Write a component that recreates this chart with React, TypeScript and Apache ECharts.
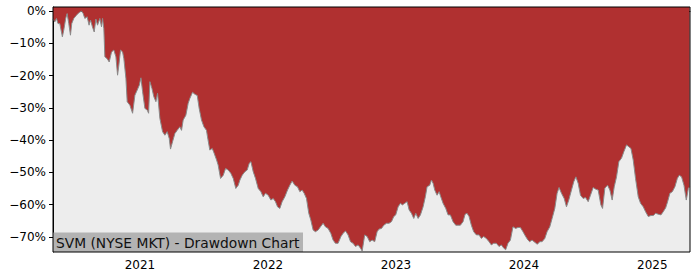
import React, { useEffect, useRef } from "react";
import * as echarts from "echarts";

// Dates as decimal years
const years: number[] = [
  2020.323, 2020.337, 2020.35, 2020.362, 2020.376, 2020.396, 2020.407, 2020.422, 2020.433, 2020.446,
  2020.459, 2020.469, 2020.485, 2020.506, 2020.526, 2020.545, 2020.558, 2020.571, 2020.589, 2020.604,
  2020.615, 2020.63, 2020.644, 2020.657, 2020.67, 2020.688, 2020.701, 2020.709, 2020.719, 2020.727,
  2020.745, 2020.761, 2020.779, 2020.797, 2020.813, 2020.826, 2020.836, 2020.849, 2020.865, 2020.875,
  2020.891, 2020.901, 2020.922, 2020.943, 2020.961, 2020.979, 2020.995, 2021.008, 2021.021, 2021.039,
  2021.057, 2021.068, 2021.078, 2021.094, 2021.109, 2021.125, 2021.138, 2021.156, 2021.177, 2021.195,
  2021.213, 2021.229, 2021.239, 2021.255, 2021.273, 2021.291, 2021.312, 2021.325, 2021.338, 2021.359,
  2021.377, 2021.39, 2021.411, 2021.429, 2021.448, 2021.463, 2021.481, 2021.5, 2021.52, 2021.528,
  2021.546, 2021.565, 2021.58, 2021.599, 2021.611, 2021.63, 2021.651, 2021.669, 2021.69, 2021.71,
  2021.729, 2021.749, 2021.768, 2021.781, 2021.799, 2021.82, 2021.838, 2021.854, 2021.867, 2021.885,
  2021.903, 2021.924, 2021.945, 2021.963, 2021.981, 2022.002, 2022.023, 2022.041, 2022.059, 2022.075,
  2022.093, 2022.111, 2022.132, 2022.153, 2022.171, 2022.189, 2022.21, 2022.231, 2022.249, 2022.267,
  2022.283, 2022.301, 2022.319, 2022.335, 2022.353, 2022.371, 2022.392, 2022.41, 2022.431, 2022.449,
  2022.47, 2022.491, 2022.509, 2022.527, 2022.548, 2022.569, 2022.587, 2022.606, 2022.626, 2022.645,
  2022.665, 2022.684, 2022.704, 2022.723, 2022.736, 2022.756, 2022.775, 2022.795, 2022.814, 2022.834,
  2022.853, 2022.868, 2022.887, 2022.905, 2022.926, 2022.946, 2022.965, 2022.983, 2022.998, 2023.017,
  2023.035, 2023.05, 2023.069, 2023.087, 2023.103, 2023.121, 2023.139, 2023.155, 2023.173, 2023.191,
  2023.212, 2023.23, 2023.243, 2023.264, 2023.277, 2023.29, 2023.303, 2023.321, 2023.337, 2023.35,
  2023.368, 2023.389, 2023.407, 2023.425, 2023.446, 2023.467, 2023.485, 2023.503, 2023.524, 2023.54,
  2023.555, 2023.571, 2023.589, 2023.607, 2023.628, 2023.649, 2023.667, 2023.685, 2023.706, 2023.727,
  2023.745, 2023.763, 2023.784, 2023.805, 2023.823, 2023.842, 2023.857, 2023.875, 2023.894, 2023.914,
  2023.935, 2023.953, 2023.972, 2023.992, 2024.013, 2024.031, 2024.044, 2024.063, 2024.084, 2024.104,
  2024.123, 2024.141, 2024.162, 2024.18, 2024.201, 2024.219, 2024.24, 2024.258, 2024.273, 2024.292,
  2024.313, 2024.331, 2024.349, 2024.37, 2024.388, 2024.404, 2024.422, 2024.44, 2024.461, 2024.479,
  2024.5, 2024.518, 2024.539, 2024.557, 2024.578, 2024.599, 2024.612, 2024.63, 2024.651, 2024.669,
  2024.687, 2024.703, 2024.721, 2024.739, 2024.76, 2024.778, 2024.799, 2024.817, 2024.833, 2024.851,
  2024.869, 2024.89, 2024.908, 2024.929, 2024.947, 2024.968, 2024.989, 2025.007, 2025.026, 2025.046,
  2025.067, 2025.085, 2025.104, 2025.119, 2025.137, 2025.156, 2025.176, 2025.195, 2025.21, 2025.228,
  2025.247, 2025.265, 2025.281, 2025.291,
];

// Drawdown in percent
const drawdown: number[] = [
  -2.5, -3.4, -2.3, -3.9, -3.9, -8.0, -5.9, -2.3, -0.8, -3.9,
  -7.5, -3.9, -2.3, -1.3, -0.5, 0, -0.8, -2.3, -1.8, -4.4,
  -2.8, -4.9, -6.5, -2.5, -4.4, -2.3, -4.9, -2.3, -5.5, -14.2,
  -14.8, -15.8, -12.7, -12.1, -14.2, -19.9, -16.8, -12.1, -12.7, -14.8,
  -20.9, -28.1, -29.2, -31.7, -26.1, -24.5, -23.0, -20.7, -25.0, -30.2,
  -30.7, -31.7, -21.9, -24.0, -26.6, -28.1, -25.5, -33.3, -37.4, -38.5,
  -37.4, -39.5, -42.8, -40.5, -38.0, -37.0, -35.9, -37.0, -33.8, -32.3,
  -28.6, -27.1, -25.2, -25.8, -26.2, -30.2, -33.8, -35.9, -37.0, -39.0,
  -43.1, -42.6, -44.1, -46.2, -47.7, -51.9, -50.9, -48.8, -49.3, -50.3,
  -51.9, -55.0, -54.0, -52.4, -50.9, -49.8, -49.3, -47.2, -46.7, -49.8,
  -51.9, -55.0, -56.0, -57.6, -56.5, -57.1, -58.6, -58.1, -59.1, -60.7,
  -61.2, -59.1, -57.6, -55.5, -54.0, -52.7, -54.0, -54.5, -56.0, -55.5,
  -56.5, -58.1, -62.7, -64.8, -67.9, -68.4, -67.9, -66.9, -65.8, -66.9,
  -67.4, -68.9, -71.0, -72.0, -72.0, -70.0, -68.9, -68.2, -69.4, -71.5,
  -72.0, -73.0, -72.5, -73.5, -74.4, -69.4, -69.9, -71.5, -71.0, -71.5,
  -68.4, -67.6, -67.4, -66.4, -65.8, -65.8, -65.3, -63.7, -63.2, -60.7,
  -59.6, -60.1, -59.6, -59.1, -61.7, -62.7, -64.3, -62.7, -64.3, -63.2,
  -60.7, -57.5, -54.5, -54.0, -52.4, -53.4, -55.5, -57.1, -56.0, -57.6,
  -59.6, -61.2, -63.2, -63.2, -65.3, -66.4, -66.4, -66.4, -65.3, -63.0,
  -62.7, -63.7, -66.4, -68.4, -69.4, -69.4, -70.5, -69.9, -70.5, -71.5,
  -72.5, -72.0, -72.0, -73.0, -72.5, -73.5, -74.0, -72.0, -71.0, -66.9,
  -67.4, -67.1, -67.1, -68.4, -69.9, -71.0, -71.5, -71.0, -71.7, -72.3,
  -71.5, -71.5, -70.5, -68.4, -66.9, -64.3, -61.2, -56.5, -54.7, -56.5,
  -58.1, -60.7, -58.6, -55.5, -52.9, -51.4, -53.4, -57.1, -58.1, -57.8,
  -59.1, -57.1, -54.7, -55.2, -55.5, -60.1, -61.2, -54.9, -54.0, -55.5,
  -58.6, -54.5, -51.4, -46.7, -45.6, -43.6, -41.5, -42.1, -42.6, -46.2,
  -51.9, -57.6, -59.6, -60.7, -62.2, -63.7, -63.4, -63.4, -62.7, -63.0,
  -63.2, -62.2, -61.0, -59.1, -56.5, -56.0, -54.5, -51.9, -50.9, -51.4,
  -54.0, -58.6, -55.0, -54.5,
];

const yTicks: number[] = [0, -10, -20, -30, -40, -50, -60, -70];
const xTickYears: number[] = [2021, 2022, 2023, 2024, 2025];
const xRange: number[] = [2020.323, 2025.294];
const yRange: number[] = [-74.7, 1.24];
const titleText = "SVM (NYSE MKT) - Drawdown Chart";

function yearToTs(y: number): number {
  const yr = Math.floor(y);
  const start = Date.UTC(yr, 0, 1);
  const end = Date.UTC(yr + 1, 0, 1);
  return start + (y - yr) * (end - start);
}

const FONT = "DejaVu Sans";

export default function App() {
  const ref = useRef<HTMLDivElement>(null);
  useEffect(() => {
    if (!ref.current) return;
    const chart = echarts.init(ref.current, undefined, { renderer: "svg" });
    const data = years.map((y, i) => [yearToTs(y), drawdown[i]]);
    const xTickTs = xTickYears.map((y) => Date.UTC(y, 0, 1));
    const L = 53, T = 7, R = 690, B = 252;
    chart.setOption({
      animation: false,
      backgroundColor: "#ffffff",
      grid: {
        left: L,
        top: T,
        right: 700 - R,
        bottom: 280 - B,
        show: true,
        backgroundColor: "#ededed",
        borderWidth: 0,
      },
      xAxis: {
        type: "value",
        min: yearToTs(xRange[0]),
        max: yearToTs(xRange[1]),
        axisLine: { show: true, lineStyle: { color: "#000", width: 1 } },
        axisTick: {
          show: true,
          length: 4,
          lineStyle: { color: "#000" },
          customValues: xTickTs,
        },
        axisLabel: {
          customValues: xTickTs,
          formatter: (v: number) => String(new Date(v).getUTCFullYear()),
          fontFamily: FONT,
          fontSize: 12,
          color: "#000",
          margin: 7,
        },
        splitLine: { show: false },
      },
      yAxis: {
        type: "value",
        min: yRange[0],
        max: yRange[1],
        axisLine: { show: true, lineStyle: { color: "#000", width: 1 } },
        axisTick: {
          show: true,
          length: 4,
          lineStyle: { color: "#000" },
          customValues: yTicks,
        },
        axisLabel: {
          customValues: yTicks,
          formatter: (v: number) => (v === 0 ? "0%" : "\u2212" + Math.abs(v) + "%"),
          fontFamily: FONT,
          fontSize: 12,
          color: "#000",
          margin: 7,
        },
        splitLine: { show: false },
      },
      series: [
        {
          type: "line",
          data,
          showSymbol: false,
          symbol: "none",
          lineStyle: { color: "#8a8a8a", width: 1 },
          areaStyle: { origin: "end", color: "#b03030", opacity: 1 },
          z: 2,
        },
      ],
      graphic: [
        {
          type: "rect",
          z: 50,
          shape: { x: L, y: 232.5, width: 250, height: B - 232.5 },
          style: { fill: "#b3b3b3" },
        },
        {
          type: "text",
          z: 51,
          x: 56,
          y: 242.5,
          style: {
            text: titleText,
            font: `13.8px "${FONT}"`,
            fill: "#111",
            verticalAlign: "middle",
            align: "left",
          },
        },
        {
          type: "rect",
          z: 60,
          shape: { x: L, y: T, width: R - L, height: B - T },
          style: { fill: "none", stroke: "#000", lineWidth: 1 },
        },
      ],
    });
    return () => chart.dispose();
  }, []);
  return (
    <div
      ref={ref}
      style={{ position: "absolute", left: 0, top: 0, width: 700, height: 280 }}
    />
  );
}
